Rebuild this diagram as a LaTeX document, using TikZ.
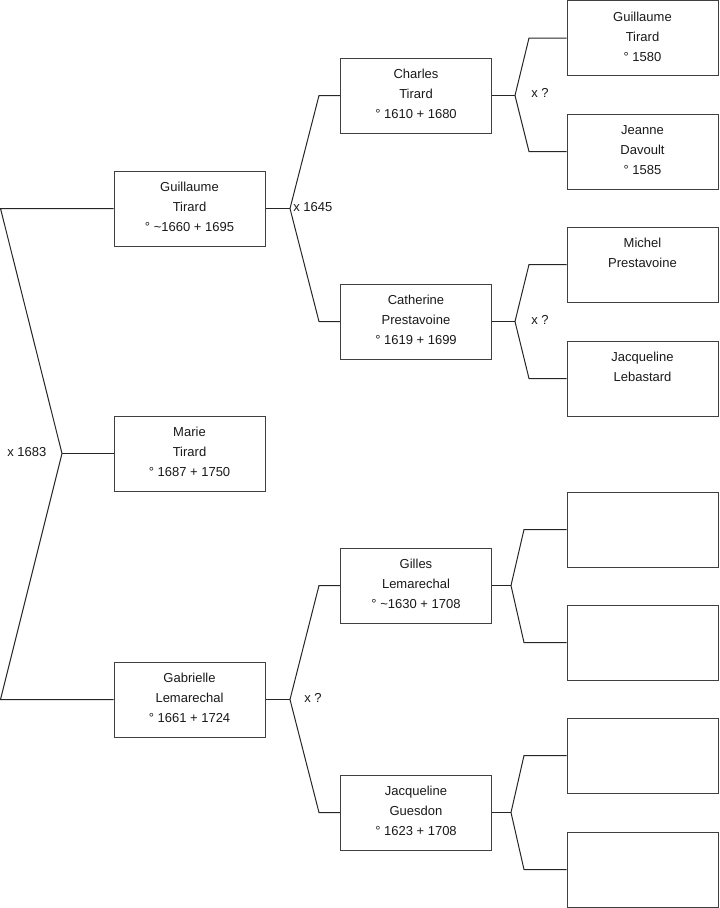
\documentclass[tikz,border=0pt]{standalone}
\usepackage{fontspec}
\setmainfont{Liberation Sans}
\begin{document}
\begin{tikzpicture}[x=0.75pt,y=-0.75pt,
  pbox/.style={draw=black!75,line width=0.75pt,minimum width=113.25pt,minimum height=56.25pt,inner sep=0pt},
  ptext/.style={anchor=north,align=center,inner sep=0pt,font=\fontsize{9.75}{15}\selectfont,text=black!90,yshift=-8.6pt},
  lab/.style={anchor=west,inner sep=0pt,font=\fontsize{9.75}{12}\selectfont,text=black!90},
  conn/.style={draw=black!85,line width=0.75pt}]
\useasboundingbox (0,0) rectangle (719,908);
% generation 1
\node[pbox] (g1a) at (189.5,208.5) {};
\node[pbox] (g1b) at (189.5,453.5) {};
\node[pbox] (g1c) at (189.5,699.5) {};
% generation 2
\node[pbox] (g2a) at (416,95.5) {};
\node[pbox] (g2b) at (416,321.5) {};
\node[pbox] (g2c) at (416,585.5) {};
\node[pbox] (g2d) at (416,812.5) {};
% generation 3
\node[pbox] (g3a) at (642.5,38) {};
\node[pbox] (g3b) at (642.5,151.5) {};
\node[pbox] (g3c) at (642.5,264.5) {};
\node[pbox] (g3d) at (642.5,378.5) {};
\node[pbox] (g3e) at (642.5,529.5) {};
\node[pbox] (g3f) at (642.5,642.5) {};
\node[pbox] (g3g) at (642.5,755.5) {};
\node[pbox] (g3h) at (642.5,869.5) {};
% texts
\node[ptext] (t1a) at (g1a.north) {Guillaume\\Tirard\\° \textasciitilde1660 + 1695};
\node[ptext] (t1b) at (g1b.north) {Marie\\Tirard\\° 1687 + 1750};
\node[ptext] (t1c) at (g1c.north) {Gabrielle\\Lemarechal\\° 1661 + 1724};
\node[ptext] (t2a) at (g2a.north) {Charles\\Tirard\\° 1610 + 1680};
\node[ptext] (t2b) at (g2b.north) {Catherine\\Prestavoine\\° 1619 + 1699};
\node[ptext] (t2c) at (g2c.north) {Gilles\\Lemarechal\\° \textasciitilde1630 + 1708};
\node[ptext] (t2d) at (g2d.north) {Jacqueline\\Guesdon\\° 1623 + 1708};
\node[ptext] (t3a) at (g3a.north) {Guillaume\\Tirard\\° 1580};
\node[ptext] (t3b) at (g3b.north) {Jeanne\\Davoult\\° 1585};
\node[ptext] (t3c) at (g3c.north) {Michel\\Prestavoine};
\node[ptext] (t3d) at (g3d.north) {Jacqueline\\Lebastard};
% fork points
\coordinate (l0a) at (0.5,208.5);
\coordinate (l0c) at (0.5,699.5);
\coordinate (f0) at (62,453.5);
\coordinate (f1) at (290,208.5);
\coordinate (f2) at (290,699.5);
\coordinate (f3) at (515,95.5);
\coordinate (f4) at (515,321.5);
\coordinate (f5) at (511,585.5);
\coordinate (f6) at (511,812.5);
% connectors
\draw[conn] (g1a.west) -- (l0a) -- (f0) -- (l0c) -- (g1c.west);
\draw[conn] (f0) -- (g1b.west);
\draw[conn] (g1a.east) -- (f1);
\draw[conn] (f1) -- (319,95.5) -- (g2a.west);
\draw[conn] (f1) -- (319,321.5) -- (g2b.west);
\draw[conn] (g1c.east) -- (f2);
\draw[conn] (f2) -- (319,585.5) -- (g2c.west);
\draw[conn] (f2) -- (319,812.5) -- (g2d.west);
\draw[conn] (g2a.east) -- (f3);
\draw[conn] (f3) -- (529,38) -- (g3a.west);
\draw[conn] (f3) -- (529,151.5) -- (g3b.west);
\draw[conn] (g2b.east) -- (f4);
\draw[conn] (f4) -- (529,264.5) -- (g3c.west);
\draw[conn] (f4) -- (529,378.5) -- (g3d.west);
\draw[conn] (g2c.east) -- (f5);
\draw[conn] (f5) -- (524,529.5) -- (g3e.west);
\draw[conn] (f5) -- (524,642.5) -- (g3f.west);
\draw[conn] (g2d.east) -- (f6);
\draw[conn] (f6) -- (524,755.5) -- (g3g.west);
\draw[conn] (f6) -- (524,869.5) -- (g3h.west);
% marriage labels
\node[lab] (m0) at (7,452) {x 1683};
\node[lab] (m1) at (293,207) {x 1645};
\node[lab] (m2) at (304,698) {x ?};
\node[lab] (m3) at (531,93) {x ?};
\node[lab] (m4) at (531,320) {x ?};
\end{tikzpicture}
\end{document}
